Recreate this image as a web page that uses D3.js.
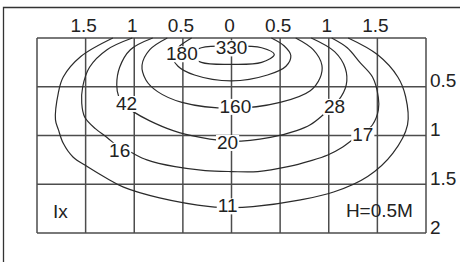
<!DOCTYPE html>
<html>
<head>
<meta charset="utf-8">
<script src="https://cdn.jsdelivr.net/npm/d3@7"></script>
<style>
  body { margin: 0; background: #fff; }
  svg { display: block; font-family: "Liberation Sans", Arial, sans-serif; }
  .grid line { stroke: #4d4d4d; stroke-width: 1.5; }
  .contour { fill: none; stroke: #2b2b2b; stroke-width: 1.2; }
  .lbl { font-size: 19px; fill: #222; }
</style>
</head>
<body>
<svg width="460" height="262"></svg>
<script>
// tick labels (distance from centre, in units of H)
const xTicks = [-1.5, -1, -0.5, 0, 0.5, 1, 1.5];
const yTicks = [0.5, 1, 1.5, 2];
const gridX = [-2, -1.5, -1, -0.5, 0, 0.5, 1, 1.5, 2];
const gridY = [0, 0.5, 1, 1.5, 2];

// isolux curves, points [x, y]
const c330 = [[0.44, 0.17], [0.31, 0.10], [0, 0.08], [-0.31, 0.10], [-0.43, 0.17], [-0.31, 0.25], [0, 0.27], [0.31, 0.25]];
const c180 = [[-0.41, 0], [-0.53, 0.08], [-0.61, 0.17], [-0.55, 0.29], [-0.38, 0.38], [0, 0.44], [0.37, 0.38], [0.56, 0.29], [0.61, 0.18], [0.54, 0.08], [0.41, 0]];
const c160 = [[-0.66, 0], [-0.84, 0.12], [-0.92, 0.28], [-0.88, 0.43], [-0.76, 0.55], [-0.51, 0.66], [0, 0.72], [0.50, 0.66], [0.81, 0.54], [0.91, 0.41], [0.93, 0.28], [0.84, 0.12], [0.66, 0]];
const c42 = [[-0.81, 0], [-1.04, 0.12], [-1.15, 0.30], [-1.18, 0.48], [-1.16, 0.60], [-1.10, 0.69], [-1.02, 0.75], [-0.84, 0.85], [-0.60, 0.95], [-0.32, 1.02], [0, 1.06], [0.40, 1.02], [0.67, 0.95], [0.81, 0.89], [0.94, 0.79], [1.10, 0.64], [1.18, 0.48], [1.17, 0.31], [1.06, 0.14], [0.82, 0]];
const c16 = [[-1.02, 0], [-1.28, 0.12], [-1.46, 0.30], [-1.53, 0.50], [-1.54, 0.67], [-1.51, 0.81], [-1.40, 0.93], [-1.28, 1.02], [-1.17, 1.11], [-1.04, 1.17], [-0.87, 1.25], [-0.58, 1.32], [-0.27, 1.36], [0, 1.37], [0.27, 1.37], [0.58, 1.32], [0.81, 1.26], [0.99, 1.20], [1.14, 1.12], [1.25, 1.04], [1.36, 0.97], [1.45, 0.89], [1.51, 0.74], [1.51, 0.61], [1.45, 0.40], [1.32, 0.25], [1.19, 0.10], [1.03, 0]];
const c11 = [[-1.22, 0], [-1.55, 0.19], [-1.73, 0.40], [-1.78, 0.56], [-1.81, 0.84], [-1.78, 0.94], [-1.73, 1.08], [-1.63, 1.22], [-1.48, 1.32], [-1.28, 1.44], [-1.11, 1.53], [-0.74, 1.64], [-0.22, 1.73], [0, 1.74], [0.22, 1.73], [0.71, 1.66], [1.05, 1.58], [1.40, 1.42], [1.66, 1.18], [1.81, 0.89], [1.79, 0.60], [1.71, 0.40], [1.50, 0.17], [1.20, 0]];

// curve values and where they are written
const labelText = ["330", "180", "160", "42", "28", "20", "16", "17", "11"];
const labelX = [0, -0.51, 0.04, -1.08, 1.06, -0.04, -1.15, 1.35, -0.04];
const labelY = [0.10, 0.16, 0.70, 0.67, 0.70, 1.07, 1.15, 0.99, 1.72];

const svg = d3.select("svg");

const x = d3.scaleLinear().domain([-2, 2]).range([37, 426]);
const y = d3.scaleLinear().domain([0, 2]).range([38, 233]);

// outer frame
svg.append("path")
  .attr("d", "M3.5,262V7.5H460")
  .attr("fill", "none")
  .attr("stroke", "#333")
  .attr("stroke-width", 1.3);

const grid = svg.append("g").attr("class", "grid");
grid.selectAll(".gx")
  .data(gridX)
  .enter()
  .append("line")
  .attr("x1", (d) => x(d)).attr("x2", (d) => x(d))
  .attr("y1", y(0)).attr("y2", y(2));
grid.selectAll(".gy")
  .data(gridY)
  .enter()
  .append("line")
  .attr("y1", (d) => y(d)).attr("y2", (d) => y(d))
  .attr("x1", x(-2)).attr("x2", x(2));

const xAxis = d3.axisTop(x)
  .tickValues(xTicks)
  .tickSize(0)
  .tickPadding(6)
  .tickFormat((d) => String(Math.abs(d)));
const yAxis = d3.axisRight(y)
  .tickValues(yTicks)
  .tickSize(0)
  .tickPadding(4)
  .tickFormat((d) => String(d));

svg.append("g")
  .attr("transform", "translate(-2.5," + y(0) + ")")
  .call(xAxis)
  .call((g) => g.select(".domain").remove())
  .selectAll("text")
  .attr("class", "lbl")
  .attr("font-family", null)
  .attr("font-size", null);

svg.append("g")
  .attr("transform", "translate(" + x(2) + ",0)")
  .call(yAxis)
  .call((g) => g.select(".domain").remove())
  .selectAll("text")
  .attr("class", "lbl")
  .attr("dy", "0")
  .attr("font-family", null)
  .attr("font-size", null);

const valueLine = d3.line()
  .curve(d3.curveCatmullRom.alpha(0.5))
  .x((d) => x(d[0]))
  .y((d) => y(d[1]));
const closedLine = d3.line()
  .curve(d3.curveCatmullRomClosed.alpha(0.5))
  .x((d) => x(d[0]))
  .y((d) => y(d[1]));

svg.append("path").attr("class", "contour").attr("d", closedLine(c330));
[c180, c160, c42, c16, c11].forEach((c) => {
  svg.append("path").attr("class", "contour").attr("d", valueLine(c));
});

// value labels with a white patch behind them
const labels = svg.selectAll(".val")
  .data(labelText)
  .enter()
  .append("g")
  .attr("class", "val");
labels.append("rect").attr("fill", "#fff");
labels.append("text")
  .attr("class", "lbl")
  .attr("text-anchor", "middle")
  .attr("x", (d, i) => x(labelX[i]))
  .attr("y", (d, i) => y(labelY[i]))
  .attr("dy", "0.35em")
  .text((d) => d);
labels.each(function () {
  const b = d3.select(this).select("text").node().getBBox();
  d3.select(this).select("rect")
    .attr("x", b.x - 1)
    .attr("y", b.y + 3)
    .attr("width", b.width + 2)
    .attr("height", b.height - 5);
});

svg.append("text")
  .attr("class", "lbl")
  .attr("x", x(-1.835))
  .attr("y", y(1.846))
  .text("Ix");

svg.append("text")
  .attr("class", "lbl")
  .attr("text-anchor", "end")
  .attr("x", x(1.866))
  .attr("y", y(1.836))
  .text("H=0.5M");
</script>
</body>
</html>
